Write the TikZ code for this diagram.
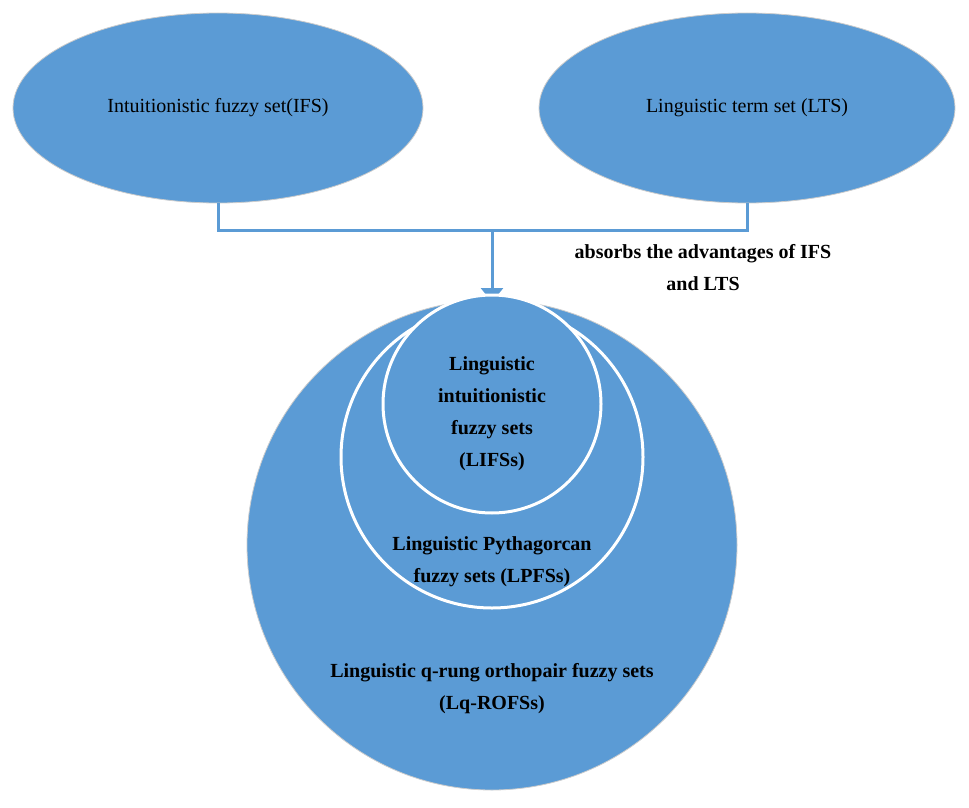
\documentclass[tikz,border=0pt]{standalone}
\usepackage{fontspec}
\setmainfont{Liberation Serif}
\usetikzlibrary{arrows.meta,shapes.geometric}
\definecolor{fillb}{HTML}{5B9BD5}
\definecolor{lineb}{HTML}{5B9BD5}
\begin{document}
\begin{tikzpicture}[x=1pt,y=-1pt,
  blob/.style={fill=fillb,draw=gray!40,line width=0.8pt,inner sep=0pt},
  ring/.style={fill=fillb,draw=white,line width=3pt,inner sep=0pt},
  lab/.style={font=\fontsize{20}{32}\selectfont,align=center},
  conn/.style={draw=lineb,line width=3pt}]
\useasboundingbox (0,0) rectangle (969,808);
\node[blob,ellipse,minimum width=410pt,minimum height=190pt] (ifs) at (218,108) {};
\node[lab] at (ifs) {Intuitionistic fuzzy set(IFS)};
\node[blob,ellipse,minimum width=416pt,minimum height=190pt] (lts) at (747,108) {};
\node[lab] at (lts) {Linguistic term set (LTS)};
\coordinate (j) at (492,230);
\draw[conn] (ifs.south) |- (j) -| (lts.south);
\node[blob,circle,minimum size=490pt] (big) at (492,545) {};
\draw[conn,-{Triangle[length=14pt,width=22pt]}] (j) -- (492,302);
\node[ring,circle,minimum size=302pt] (mid) at (492,457) {};
\node[ring,circle,minimum size=218pt] (sm) at (492,404) {};
\node[lab,font=\fontsize{20}{32}\selectfont\bfseries] at (492,414) {Linguistic\\intuitionistic\\fuzzy sets\\(LIFSs)};
\node[lab,font=\fontsize{20}{32}\selectfont\bfseries] at (492,562) {Linguistic Pythagorcan\\fuzzy sets (LPFSs)};
\node[lab,font=\fontsize{20}{32}\selectfont\bfseries] at (492,689) {Linguistic q-rung orthopair fuzzy sets\\(Lq-ROFSs)};
\node[lab,font=\fontsize{20}{32}\selectfont\bfseries] (abs) at (703,268) {absorbs the advantages of IFS\\and LTS};
\end{tikzpicture}
\end{document}
